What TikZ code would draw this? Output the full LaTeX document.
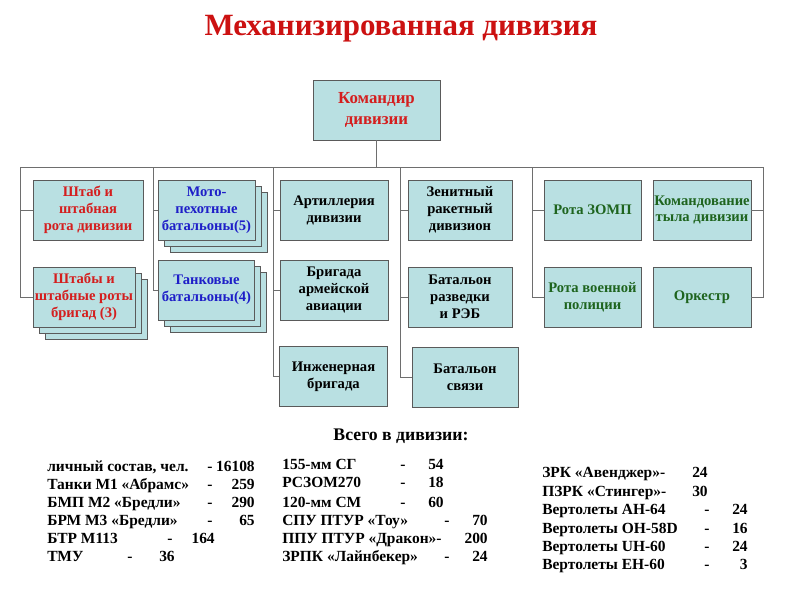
\documentclass[tikz,border=0pt]{standalone}
\usepackage{fontspec}
\setmainfont{Liberation Serif}
\usetikzlibrary{positioning, shadows}
\definecolor{cFill}{RGB}{185,224,226}
\definecolor{cLine}{RGB}{90,90,90}
\definecolor{cLink}{RGB}{110,110,110}
\definecolor{cTitle}{RGB}{204,17,17}
\definecolor{cRed}{RGB}{212,30,30}
\definecolor{cBlue}{RGB}{30,30,200}
\definecolor{cGreen}{RGB}{30,100,30}
\tikzset{
    unit/.style ={rectangle, draw=cLine, fill=cFill, minimum width=2.7cm, minimum height=1.5cm, align=center, inner sep=1pt, font=\bfseries\fontsize{10.4}{12}\selectfont},
    stack/.style={unit, double copy shadow={shadow xshift=0.15cm, shadow yshift=-0.15cm, fill=cFill, draw=cLine}},
    link/.style ={draw=cLink, line width=0.6pt},
    listtext/.style={anchor=base west, inner sep=0pt, font=\bfseries\fontsize{11}{13}\selectfont},
    listnum/.style ={anchor=base east, inner sep=0pt, font=\bfseries\fontsize{11}{13}\selectfont},
}

\begin{document}
\begin{tikzpicture}[x=0.025cm, y=-0.025cm]
    \useasboundingbox (0,0) rectangle (800,600);
    % title
    \node[font=\bfseries\fontsize{22}{26}\selectfont, text=cTitle] (title) at (401,29) {Механизированная дивизия};
    % commander
    \node[unit, minimum width=3.175cm, text=cRed, font=\bfseries\fontsize{12}{15}\selectfont] (cmd) at (376.5,110) {Командир\\дивизии};

    % column 1
    \node[unit, minimum width=2.75cm, text=cRed] (hq) at (88,210) {Штаб и\\штабная\\рота дивизии};
    \node[stack, minimum width=2.55cm, text=cRed] (hqb) at (84,297) {Штабы и\\штабные роты\\бригад (3)};
    % column 2
    \node[stack, minimum width=2.425cm, text=cBlue] (mot) at (206.5,210) {Мото-\\пехотные\\батальоны(5)};
    \node[stack, minimum width=2.4cm, text=cBlue] (tank) at (206.5,290) {Танковые\\батальоны(4)};
    % column 3
    \node[unit] (art) at (334,210) {Артиллерия\\дивизии};
    \node[unit] (avia) at (334,290) {Бригада\\армейской\\авиации};
    \node[unit] (eng) at (333.5,376.5) {Инженерная\\бригада};
    % column 4
    \node[unit, minimum width=2.6cm] (zrd) at (460,210) {Зенитный\\ракетный\\дивизион};
    \node[unit, minimum width=2.6cm] (rec) at (460,297) {Батальон\\разведки\\и РЭБ};
    \node[unit, minimum width=2.65cm] (sig) at (465,377) {Батальон\\связи};
    % column 5
    \node[unit, minimum width=2.425cm, text=cGreen] (zomp) at (592.5,210) {Рота ЗОМП};
    \node[unit, minimum width=2.425cm, text=cGreen] (mp) at (592.5,297) {Рота военной\\полиции};
    \node[unit, minimum width=2.45cm, text=cGreen] (rear) at (702,210) {Командование\\тыла дивизии};
    \node[unit, minimum width=2.45cm, text=cGreen] (orch) at (702,297) {Оркестр};

    % bus
    \coordinate (busL) at (20,167);
    \coordinate (busR) at (763,167);
    \coordinate (bus2) at (153,167);
    \coordinate (bus3) at (273,167);
    \coordinate (bus4) at (400,167);
    \coordinate (bus5) at (532,167);
    \draw[link] (cmd.south) -- (cmd.south |- busL);
    \draw[link] (busL) -- (busR);
    \draw[link] (busL) |- (hq.west);
    \draw[link] (busL) |- (hqb.west);
    \draw[link] (bus2) |- (mot.west);
    \draw[link] (bus2) |- (tank.west);
    \draw[link] (bus3) |- (art.west);
    \draw[link] (bus3) |- (avia.west);
    \draw[link] (bus3) |- (eng.west);
    \draw[link] (bus4) |- (zrd.west);
    \draw[link] (bus4) |- (rec.west);
    \draw[link] (bus4) |- (sig.west);
    \draw[link] (bus5) |- (zomp.west);
    \draw[link] (bus5) |- (mp.west);
    \draw[link] (busR) |- (rear.east);
    \draw[link] (busR) |- (orch.east);

    % totals
    \node[font=\bfseries\fontsize{12.6}{15}\selectfont] (total) at (401,436) {Всего в дивизии:};
    \foreach \t/\y/\d/\n/\nx [count=\i] in {
        личный состав{,} чел./471/210/16108/255,
        Танки М1 «Абрамс»/489/210/259/255,
        БМП М2 «Бредли»/507/210/290/255,
        БРМ М3 «Бредли»/525/210/65/255,
        БТР М113/543/170/164/215,
        ТМУ/561/130/36/175}{
        \node[listtext] (la\i) at (47,\y) {\t};
        \node[listnum, anchor=base] (da\i) at (\d,\y) {-};
        \node[listnum] (na\i) at (\nx,\y) {\n};
    }
    \foreach \t/\y/\d/\n/\nx [count=\i] in {
        155-мм СГ/469/403/54/444,
        РСЗОМ270/487/403/18/444,
        120-мм СМ/507/403/60/444,
        СПУ ПТУР «Тоу»/525/447/70/488,
        ППУ ПТУР «Дракон»/543/439/200/488,
        ЗРПК «Лайнбекер»/561/447/24/488}{
        \node[listtext] (lb\i) at (282,\y) {\t};
        \node[listnum, anchor=base] (db\i) at (\d,\y) {-};
        \node[listnum] (nb\i) at (\nx,\y) {\n};
    }
    \begin{scope}[every node/.append style={font=\bfseries\fontsize{11.6}{14}\selectfont}]
    \node[listtext] (lc1) at (542,477) {ЗРК «Авенджер»-};
    \node[listnum] (nc1) at (708,477) {24};
    \node[listtext] (lc2) at (542,496) {ПЗРК «Стингер»-};
    \node[listnum] (nc2) at (708,496) {30};
    \foreach \t/\y/\n [count=\i from 3] in {
        Вертолеты АН-64/514/24,
        Вертолеты ОН-58D/533/16,
        Вертолеты UH-60/551/24,
        Вертолеты ЕН-60/569/3}{
        \node[listtext] (lc\i) at (542,\y) {\t};
        \node[listnum, anchor=base] (dc\i) at (707,\y) {-};
        \node[listnum] (nc\i) at (748,\y) {\n};
    }
    \end{scope}
\end{tikzpicture}
\end{document}
